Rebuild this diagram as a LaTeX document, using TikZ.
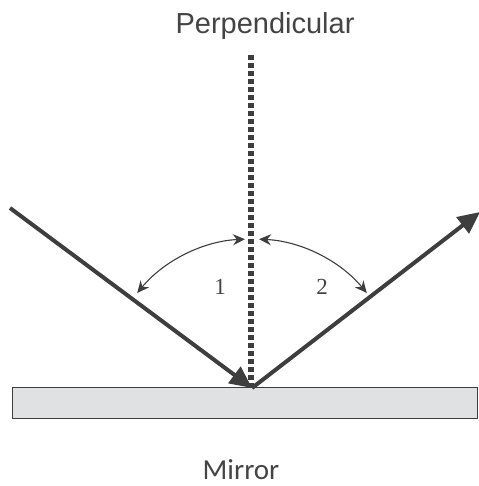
\documentclass[tikz,border=0pt]{standalone}
\usepackage{fontspec}
\newfontfamily\arialf{Liberation Sans}
\newfontfamily\calf{Carlito}
\newfontfamily\timesf{Liberation Serif}
\usetikzlibrary{arrows.meta}
\definecolor{ink}{HTML}{3E3E3E}
\definecolor{txt}{HTML}{444444}
\definecolor{mirrorfill}{HTML}{E0E1E3}
\tikzset{
  ray/.style={draw=ink, line width=4pt, -{Triangle[length=22pt,width=20pt]}},
  anglearc/.style={draw=ink, line width=1.1pt, {Stealth[length=12pt,width=11pt]}-{Stealth[length=12pt,width=11pt]}},
  perp/.style={draw=ink, line width=6pt, dash pattern=on 5pt off 3pt},
  mirrorbox/.style={draw=ink, line width=1.2pt, fill=mirrorfill},
  bigtext/.style={text=txt, inner sep=0pt, anchor=base},
}
\begin{document}
\begin{tikzpicture}[x=1pt,y=1pt]
\useasboundingbox (0,0) rectangle (478,486);
% mirror
\node[mirrorbox, minimum width=465pt, minimum height=31pt, inner sep=0pt, anchor=south west] (mirror) at (12,67) {};
\coordinate (O) at (252,98);
\coordinate (A) at (10,278);
\coordinate (B) at (480,274);
\coordinate (Ptop) at (251,431);
\coordinate (Pbot) at (251,100);
% perpendicular
\draw[perp] (Ptop) -- (Pbot);
% rays
\draw[ray] (A) -- (O);
\draw[ray] (O) -- (B);
% angle arcs
\draw[anglearc] ([shift={(140.4:149)}]O) arc[start angle=140.4, end angle=92.7, radius=149];
\draw[anglearc] ([shift={(87.3:149)}]O) arc[start angle=87.3, end angle=39.6, radius=149];
% labels
\node[bigtext, font=\arialf\fontsize{29}{32}\selectfont] (plabel) at (265,452) {Perpendicular};
\node[bigtext, font=\calf\fontsize{29}{32}\selectfont] (mlabel) at (241,6) {Mirror};
\node[bigtext, font=\timesf\fontsize{23}{26}\selectfont] (one) at (220,191) {1};
\node[bigtext, font=\timesf\fontsize{23}{26}\selectfont] (two) at (322,191) {2};
\end{tikzpicture}
\end{document}
